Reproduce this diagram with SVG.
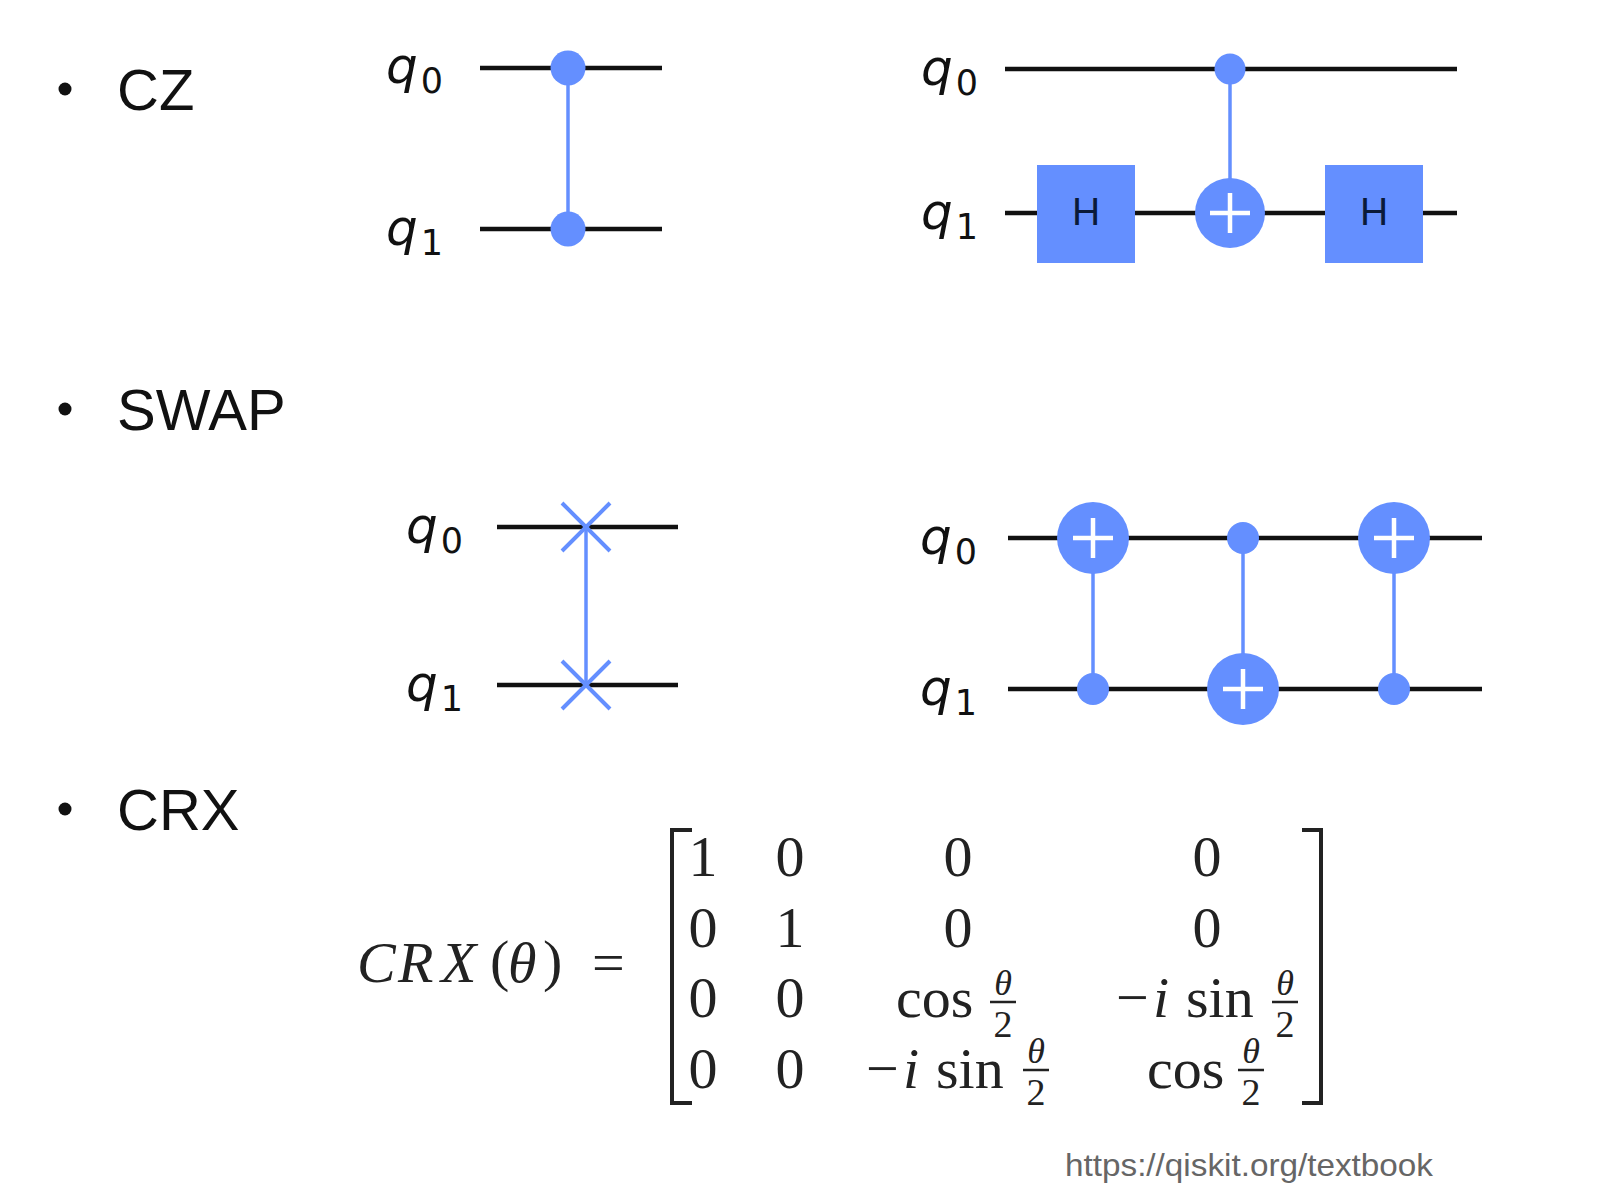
<svg xmlns="http://www.w3.org/2000/svg" width="1605" height="1186" viewBox="0 0 1605 1186">
<style>
.bul{font-family:"Liberation Sans",Arial,sans-serif;font-size:58px;fill:#111}
.ql{font-family:"DejaVu Sans",sans-serif;font-style:italic;font-size:50px;fill:#111}
.sub{font-style:normal;font-size:35px}
.wire{stroke:#111;stroke-width:4.5;fill:none}
.link{stroke:#648fff;stroke-width:3.5;fill:none}
.gate{fill:#648fff}
.plus{stroke:#fff;stroke-width:4.5;fill:none}
.xg{stroke:#648fff;stroke-width:4;fill:none}
.ht{font-family:"Liberation Sans",Arial,sans-serif;font-size:39px;fill:#0a1a3a;text-anchor:middle}
.m{font-family:"Liberation Serif","Times New Roman",serif;font-size:58px;fill:#222}
.mi{font-family:"Liberation Serif","Times New Roman",serif;font-style:italic;font-size:58px;fill:#222}
.c{text-anchor:middle}
.fn{font-family:"Liberation Serif","Times New Roman",serif;font-style:italic;font-size:36px;fill:#222;text-anchor:middle}
.fd{font-family:"Liberation Serif","Times New Roman",serif;font-size:38px;fill:#222;text-anchor:middle}
.fb{stroke:#222;stroke-width:2.5}
.br{stroke:#222;stroke-width:4;fill:none}
.url{font-family:"Liberation Sans",Arial,sans-serif;font-size:32px;fill:#666}
</style>
<rect width="1605" height="1186" fill="#fff"/>

<g id="bullets">
<circle cx="65" cy="89" r="6.5" fill="#111"/>
<text class="bul" x="117" y="110">CZ</text>
<circle cx="65" cy="409" r="6.5" fill="#111"/>
<text class="bul" x="117" y="430">SWAP</text>
<circle cx="65" cy="809" r="6.5" fill="#111"/>
<text class="bul" x="117" y="830">CRX</text>
</g>

<g id="connectors">
<line class="wire" x1="480" y1="68" x2="662" y2="68"/>
<line class="wire" x1="480" y1="229" x2="662" y2="229"/>
<line class="link" x1="568" y1="68" x2="568" y2="229"/>
<line class="wire" x1="1005" y1="69" x2="1457" y2="69"/>
<line class="wire" x1="1005" y1="213" x2="1457" y2="213"/>
<line class="link" x1="1230" y1="69" x2="1230" y2="180"/>
<line class="wire" x1="497" y1="527" x2="678" y2="527"/>
<line class="wire" x1="497" y1="685" x2="678" y2="685"/>
<line class="link" x1="586" y1="527" x2="586" y2="685"/>
<line class="wire" x1="1008" y1="538" x2="1482" y2="538"/>
<line class="wire" x1="1008" y1="689" x2="1482" y2="689"/>
<line class="link" x1="1093" y1="538" x2="1093" y2="689"/>
<line class="link" x1="1243" y1="538" x2="1243" y2="689"/>
<line class="link" x1="1394" y1="538" x2="1394" y2="689"/>
</g>

<g id="cz-left">
<text class="ql" x="386" y="83">q<tspan class="sub" dy="10" dx="3">0</tspan></text>
<text class="ql" x="386" y="245">q<tspan class="sub" dy="10" dx="3">1</tspan></text>
<circle class="gate" cx="568" cy="68" r="17.5"/>
<circle class="gate" cx="568" cy="229" r="17.5"/>
</g>

<g id="cz-right">
<text class="ql" x="921" y="85">q<tspan class="sub" dy="10" dx="3">0</tspan></text>
<text class="ql" x="921" y="229">q<tspan class="sub" dy="10" dx="3">1</tspan></text>
<circle class="gate" cx="1230" cy="69" r="15.5"/>
<rect class="gate" x="1037" y="165" width="98" height="98"/>
<text class="ht" x="1086" y="225">H</text>
<circle class="gate" cx="1230" cy="213" r="35"/>
<path class="plus" d="M1210 213H1250M1230 193V233"/>
<rect class="gate" x="1325" y="165" width="98" height="98"/>
<text class="ht" x="1374" y="225">H</text>
</g>

<g id="swap-left">
<text class="ql" x="406" y="543">q<tspan class="sub" dy="10" dx="3">0</tspan></text>
<text class="ql" x="406" y="701">q<tspan class="sub" dy="10" dx="3">1</tspan></text>
<path class="xg" d="M562 503L610 551M610 503L562 551"/>
<path class="xg" d="M562 661L610 709M610 661L562 709"/>
</g>

<g id="swap-right">
<text class="ql" x="920" y="554">q<tspan class="sub" dy="10" dx="3">0</tspan></text>
<text class="ql" x="920" y="705">q<tspan class="sub" dy="10" dx="3">1</tspan></text>
<circle class="gate" cx="1093" cy="538" r="36"/>
<path class="plus" d="M1073 538H1113M1093 518V558"/>
<circle class="gate" cx="1093" cy="689" r="16"/>
<circle class="gate" cx="1243" cy="538" r="16"/>
<circle class="gate" cx="1243" cy="689" r="36"/>
<path class="plus" d="M1223 689H1263M1243 669V709"/>
<circle class="gate" cx="1394" cy="538" r="36"/>
<path class="plus" d="M1374 538H1414M1394 518V558"/>
<circle class="gate" cx="1394" cy="689" r="16"/>
</g>

<g id="crx-matrix">
<text class="mi" x="357" y="982" font-size="64">C</text>
<text class="mi" x="398" y="982" font-size="64">R</text>
<text class="mi" x="441" y="982" font-size="64">X</text>
<text class="m" x="490" y="980" font-size="72">(</text>
<text class="mi" x="508" y="982" font-size="64">θ</text>
<text class="m" x="543" y="980" font-size="72">)</text>
<text class="m" x="592" y="982" font-size="64">=</text>

<path class="br" d="M692 830H672V1103H692"/>
<path class="br" d="M1302 830H1321V1103H1302"/>

<text class="m c" x="703" y="876">1</text>
<text class="m c" x="790" y="876">0</text>
<text class="m c" x="958" y="876">0</text>
<text class="m c" x="1207" y="876">0</text>

<text class="m c" x="703" y="947">0</text>
<text class="m c" x="790" y="947">1</text>
<text class="m c" x="958" y="947">0</text>
<text class="m c" x="1207" y="947">0</text>

<text class="m c" x="703" y="1017">0</text>
<text class="m c" x="790" y="1017">0</text>
<text class="m" x="896" y="1017">cos</text>
<text class="fn" x="1003" y="995">θ</text>
<line class="fb" x1="990" y1="1002" x2="1016" y2="1002"/>
<text class="fd" x="1003" y="1037">2</text>
<text class="m" x="1116" y="1017">−</text>
<text class="mi" x="1153" y="1017">i</text>
<text class="m" x="1186" y="1017">sin</text>
<text class="fn" x="1285" y="995">θ</text>
<line class="fb" x1="1272" y1="1002" x2="1298" y2="1002"/>
<text class="fd" x="1285" y="1037">2</text>

<text class="m c" x="703" y="1088">0</text>
<text class="m c" x="790" y="1088">0</text>
<text class="m" x="866" y="1088">−</text>
<text class="mi" x="903" y="1088">i</text>
<text class="m" x="936" y="1088">sin</text>
<text class="fn" x="1036" y="1063">θ</text>
<line class="fb" x1="1023" y1="1070" x2="1049" y2="1070"/>
<text class="fd" x="1036" y="1105">2</text>
<text class="m" x="1147" y="1088">cos</text>
<text class="fn" x="1251" y="1063">θ</text>
<line class="fb" x1="1238" y1="1070" x2="1264" y2="1070"/>
<text class="fd" x="1251" y="1105">2</text>
</g>

<text class="url" x="1065" y="1176" textLength="368" lengthAdjust="spacingAndGlyphs">https://qiskit.org/textbook</text>
</svg>
